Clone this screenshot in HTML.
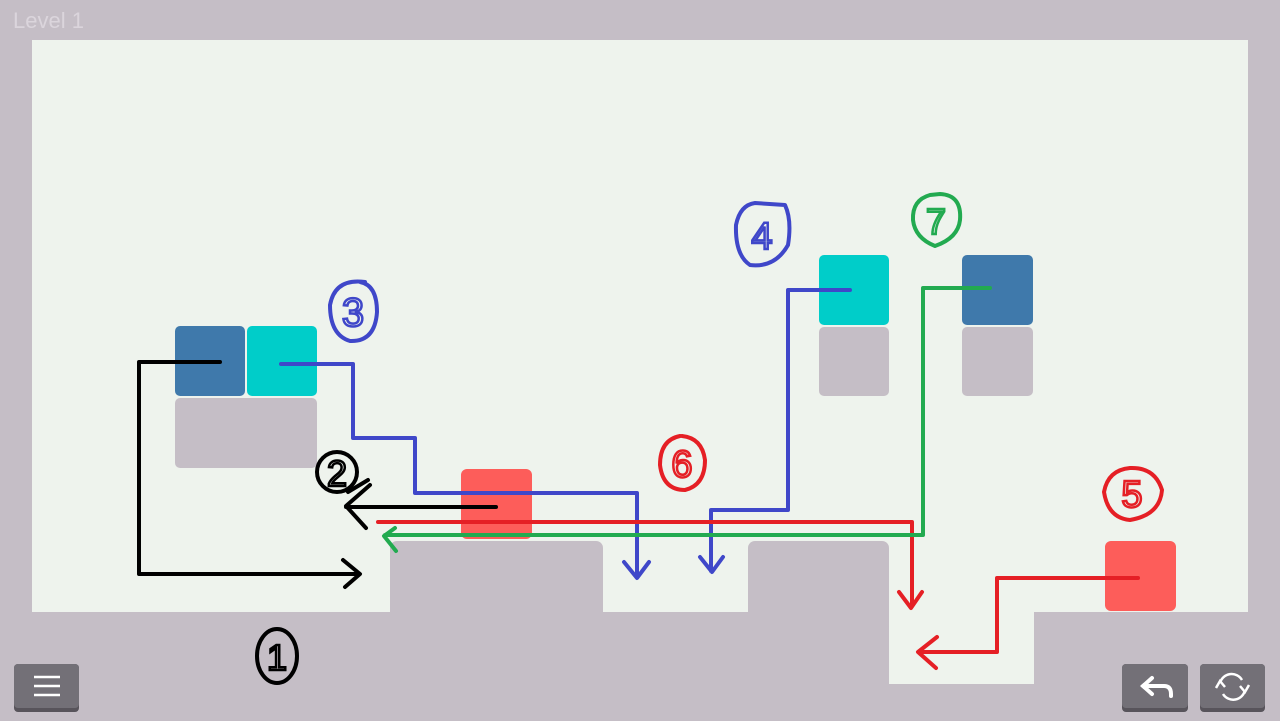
<!DOCTYPE html>
<html><head><meta charset="utf-8"><style>
html,body{margin:0;padding:0;width:1280px;height:721px;overflow:hidden;background:#c5bec6;font-family:"Liberation Sans",sans-serif}
</style></head><body>
<svg width="1280" height="721" viewBox="0 0 1280 721" xmlns="http://www.w3.org/2000/svg" style="position:absolute;left:0;top:0">
<rect x="0" y="0" width="1280" height="721" fill="#c5bec6"/>
<text x="13" y="28" font-size="22" fill="#dbd5dc" font-family="Liberation Sans, sans-serif">Level 1</text>
<rect x="32" y="40" width="1216" height="572" fill="#eef3ed"/>
<rect x="889" y="600" width="145" height="84" fill="#eef3ed"/>
<rect x="390" y="541" width="213" height="90" rx="7" fill="#c5bec6"/>
<rect x="748" y="541" width="141" height="90" rx="7" fill="#c5bec6"/>
<rect x="1034" y="612" width="246" height="40" rx="7" fill="#c5bec6"/>
<rect x="1034" y="625" width="246" height="96" fill="#c5bec6"/>
<rect x="175" y="326" width="70" height="70" rx="5" fill="#3f79ab"/>
<rect x="247" y="326" width="70" height="70" rx="5" fill="#00cdc9"/>
<rect x="175" y="398" width="142" height="70" rx="5" fill="#c5bec6"/>
<rect x="461" y="469" width="71" height="70" rx="6" fill="#fd5d5a"/>
<rect x="819" y="255" width="70" height="70" rx="5" fill="#00cdc9"/>
<rect x="819" y="327" width="70" height="69" rx="5" fill="#c5bec6"/>
<rect x="962" y="255" width="71" height="70" rx="5" fill="#3f79ab"/>
<rect x="962" y="327" width="71" height="69" rx="5" fill="#c5bec6"/>
<rect x="1105" y="541" width="71" height="70" rx="6" fill="#fd5d5a"/>
<rect x="14" y="664" width="65" height="48" rx="4" fill="#58545b"/>
<rect x="14" y="664" width="65" height="44" rx="4" fill="#737077"/>
<g stroke="#fff" stroke-width="2.5"><line x1="34" y1="677" x2="60" y2="677"/><line x1="34" y1="686" x2="60" y2="686"/><line x1="34" y1="695" x2="60" y2="695"/></g>
<rect x="1122" y="664" width="66" height="48" rx="4" fill="#58545b"/>
<rect x="1122" y="664" width="66" height="44" rx="4" fill="#737077"/>
<path d="M1143 686 H1164 Q1171 686 1171 694 V696 M1152 678 L1143 686 L1152 694" stroke="#fff" stroke-width="4" fill="none" stroke-linecap="round"/>
<rect x="1200" y="664" width="65" height="48" rx="4" fill="#58545b"/>
<rect x="1200" y="664" width="65" height="44" rx="4" fill="#737077"/>
<path d="M1220 683 A12 12 0 0 1 1242 680 M1245 690 A12 12 0 0 1 1223 694" stroke="#fff" stroke-width="2.5" fill="none"/>
<path d="M1216 688 L1220 681 L1225 687 M1249 685 L1245 692 L1240 686" stroke="#fff" stroke-width="2.5" fill="none"/>
<g fill="none" stroke-width="4" stroke-linecap="round" stroke-linejoin="round">
<g stroke="#000">
<path d="M220 362 H139 V574 H358 M343 560 L360 574 L345 587"/>
<path d="M496 507 H346 M370 485 L346 506 L366 528"/>
<ellipse cx="277" cy="656" rx="20" ry="27"/>
<ellipse cx="337" cy="472" rx="20" ry="20"/>
<path d="M348 492 L368 480"/>
</g>
<g stroke="#3f47c9">
<path d="M281 364 H353 V438 H415 V493 H637 V576 M624 562 L637 578 L649 562"/>
<path d="M850 290 H788 V510 H711 V571 M700 557 L712 572 L723 557"/>
<path d="M365 282 Q335 278 330 305 Q330 335 350 341 Q375 342 377 312 Q377 285 360 282"/>
<path d="M755 203 Q740 205 736 225 Q735 255 750 265 Q775 268 788 245 Q792 220 785 205 Z"/>
</g>
<g stroke="#e51f25">
<path d="M378 522 H912 V605 M899 592 L911 608 L922 592"/>
<path d="M1138 578 H997 V652 H920 M937 637 L918 652 L936 668"/>
<path d="M680 436 Q660 440 660 465 Q663 490 685 490 Q705 485 705 460 Q702 438 682 436"/>
<path d="M1130 468 Q1108 470 1104 492 Q1108 518 1130 520 Q1160 515 1162 490 Q1155 467 1130 468"/>
</g>
<g stroke="#22aa50">
<path d="M990 288 H923 V535 H385 M395 528 L384 536 L396 551"/>
<path d="M930 195 Q912 200 913 220 Q915 238 935 246 Q958 238 960 220 Q962 195 940 194 Z"/>
</g>
</g>
<g font-family="Liberation Sans, sans-serif" text-anchor="middle" fill="none" stroke-width="2.5">
<text x="277" y="670" font-size="36" stroke="#000">1</text>
<text x="337" y="486" font-size="36" stroke="#000">2</text>
<text x="353" y="326" font-size="40" stroke="#3f47c9">3</text>
<text x="762" y="249" font-size="38" stroke="#3f47c9">4</text>
<text x="1132" y="507" font-size="38" stroke="#e51f25">5</text>
<text x="682" y="477" font-size="38" stroke="#e51f25">6</text>
<text x="936" y="234" font-size="36" stroke="#22aa50">7</text>
</g>
</svg>
</body></html>
